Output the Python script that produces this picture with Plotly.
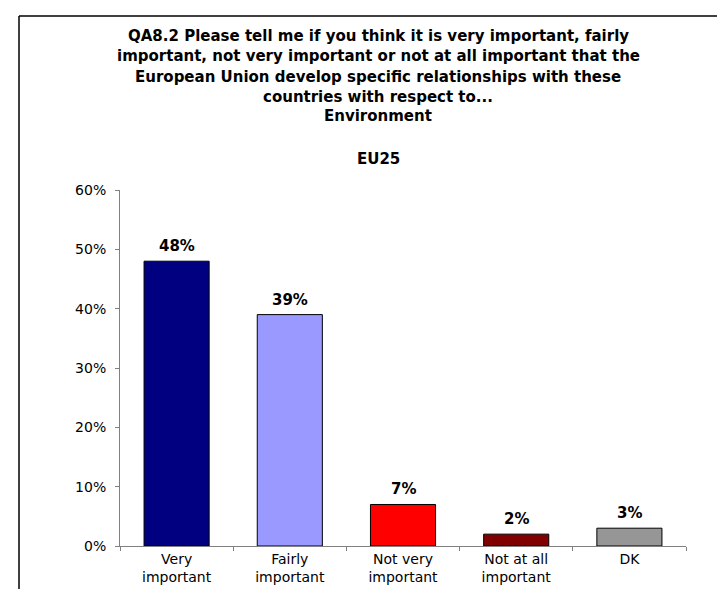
import plotly.graph_objects as go

categories = ["Very<br>important", "Fairly<br>important", "Not very<br>important", "Not at all<br>important", "DK"]
values = [48, 39, 7, 2, 3]
value_labels = ["48%", "39%", "7%", "2%", "3%"]
bar_colors = ["#000080", "#9999FF", "#FF0000", "#800000", "#969696"]
title_lines = [
    "QA8.2 Please tell me if you think it is very important, fairly",
    "important, not very important or not at all important that the",
    "European Union develop specific relationships with these",
    "countries with respect to...",
    "Environment",
]
subtitle = "EU25"
y_ticks = [0, 10, 20, 30, 40, 50, 60]
y_tick_labels = ["0%", "10%", "20%", "30%", "40%", "50%", "60%"]

W, H = 725, 589
L, R, T, B = 112, 47, 182, 49
ph = H - T - B

def ypaper(py):
    return (H - B - py) / ph

def xpaper(px):
    return (px - L) / (W - L - R)

fig = go.Figure()
fig.add_trace(go.Bar(
    x=categories, y=values,
    marker=dict(color=bar_colors, line=dict(color="#000000", width=1)),
    width=0.575,
    hoverinfo="skip",
))

annotations = []
for c, v, t in zip(categories, values, value_labels):
    annotations.append(dict(x=c, y=v, xref="x", yref="y", text="<b>%s</b>" % t,
                            showarrow=False, yanchor="bottom", yshift=4,
                            font=dict(family="DejaVu Sans", size=15, color="#000000")))

title_x = xpaper(370)
line_y = [27, 47.5, 68, 88, 108]
for ln, py in zip(title_lines, line_y):
    annotations.append(dict(x=title_x, y=ypaper(py), xref="paper", yref="paper",
                            text="<b>%s</b>" % ln, showarrow=False,
                            xanchor="center", yanchor="middle",
                            font=dict(family="DejaVu Sans", size=15, color="#000000")))
annotations.append(dict(x=title_x, y=ypaper(151), xref="paper", yref="paper",
                        text="<b>%s</b>" % subtitle, showarrow=False,
                        xanchor="center", yanchor="middle",
                        font=dict(family="DejaVu Sans", size=15, color="#000000")))

shapes = [
    dict(type="line", xref="paper", yref="paper", x0=xpaper(11), x1=xpaper(726),
         y0=ypaper(7), y1=ypaper(7), line=dict(color="#000000", width=1.5)),
    dict(type="line", xref="paper", yref="paper", x0=xpaper(11), x1=xpaper(11),
         y0=ypaper(7), y1=ypaper(590), line=dict(color="#000000", width=1.5)),
]

fig.update_layout(
    width=W, height=H,
    margin=dict(l=L, r=R, t=T, b=B),
    paper_bgcolor="#FFFFFF", plot_bgcolor="#FFFFFF",
    showlegend=False,
    annotations=annotations,
    shapes=shapes,
    font=dict(family="DejaVu Sans", color="#000000"),
    xaxis=dict(
        showline=True, linecolor="#808080", linewidth=1,
        ticks="outside", tickson="boundaries", ticklen=4, tickcolor="#808080",
        showgrid=False, zeroline=False,
        tickfont=dict(family="DejaVu Sans", size=14, color="#000000"),
        range=[-0.5, 4.5],
    ),
    yaxis=dict(
        range=[0, 60], tickvals=y_ticks, ticktext=y_tick_labels,
        showline=True, linecolor="#808080", linewidth=1,
        ticks="outside", ticklen=4, tickcolor="#808080",
        showgrid=False, zeroline=False,
        tickfont=dict(family="DejaVu Sans", size=14, color="#000000"),
        ticklabelstandoff=6,
    ),
)

fig.write_html("out.html")
